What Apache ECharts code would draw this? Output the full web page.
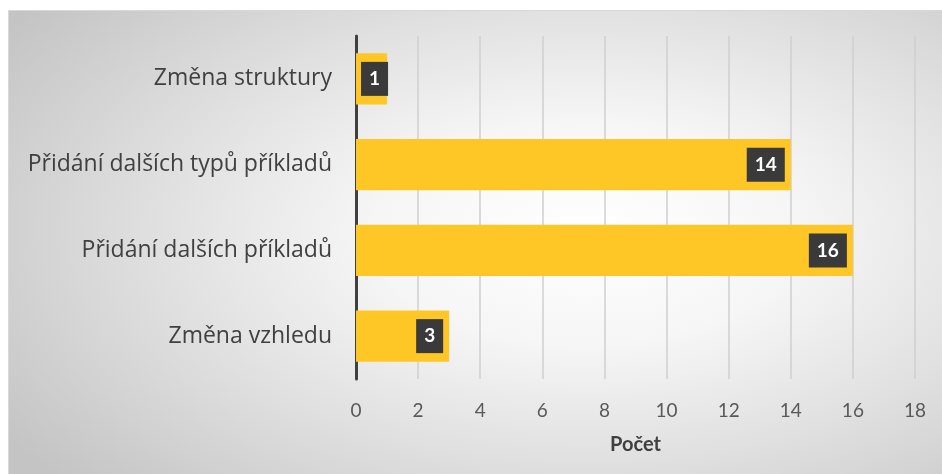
<!DOCTYPE html>
<html>
<head>
<meta charset="utf-8">
<script src="https://cdn.jsdelivr.net/npm/echarts@6/dist/echarts.min.js"></script>
<style>
    html, body { margin: 0; padding: 0; background: #fff; }
    #panel {
        position: absolute; left: 8px; top: 10px; width: 934px; height: 464px;
        border-top: 1px solid #d8d8d8; border-left: 1px solid #d8d8d8; box-sizing: border-box;
        background: radial-gradient(ellipse 75% 80% at 62% 48%, #ffffff 0%, #f6f6f6 30%, #dadada 70%, #c4c4c4 100%);
    }
    #chart { position: absolute; left: 0; top: 0; width: 942px; height: 474px; }
</style>
</head>
<body>
<div id="panel"></div>
<div id="chart"></div>
<script>
    // kategorie shora dolů
    let categories = ['Změna struktury', 'Přidání dalších typů příkladů', 'Přidání dalších příkladů', 'Změna vzhledu'];
    let counts = [1, 14, 16, 3];
    let axisMax = 18;
    let axisStep = 2;

    let myChart = echarts.init(document.getElementById('chart'));
    myChart.setOption({
        backgroundColor: 'transparent',
        grid: {
            left: 356,
            right: 27,
            top: 36,
            bottom: 95,
        },
        xAxis: {
            type: 'value',
            min: 0,
            max: axisMax,
            interval: axisStep,
            name: 'Počet',
            nameLocation: 'middle',
            nameGap: 56,
            nameTextStyle: {
                fontFamily: 'Lato',
                fontSize: 20,
                fontWeight: 'bold',
                color: '#404040',
            },
            axisLine: { show: false },
            axisTick: { show: false },
            axisLabel: {
                margin: 22,
                fontFamily: 'Lato',
                fontSize: 19,
                color: '#595959',
            },
            splitLine: {
                lineStyle: { color: '#cfcfcf', width: 1.5 },
            },
        },
        yAxis: {
            type: 'category',
            inverse: true,
            data: categories,
            axisTick: { show: false },
            axisLine: {
                lineStyle: { color: '#404040', width: 3 },
            },
            axisLabel: {
                margin: 24,
                fontFamily: 'Open Sans',
                fontSize: 23,
                color: '#404040',
            },
        },
        series: [
            {
                type: 'bar',
                barWidth: '60%',
                data: counts.map((v, i) => i === 0 ? { value: v, label: { distance: -1 } } : v),
                itemStyle: { color: '#ffc726' },
                label: {
                    show: true,
                    position: 'insideRight',
                    distance: 6,
                    backgroundColor: '#3a3a3a',
                    padding: [8, 8, 7, 8],
                    color: '#ffffff',
                    fontFamily: 'Lato',
                    fontSize: 19,
                    fontWeight: 'bold',
                },
            },
        ],
    });
</script>
</body>
</html>
